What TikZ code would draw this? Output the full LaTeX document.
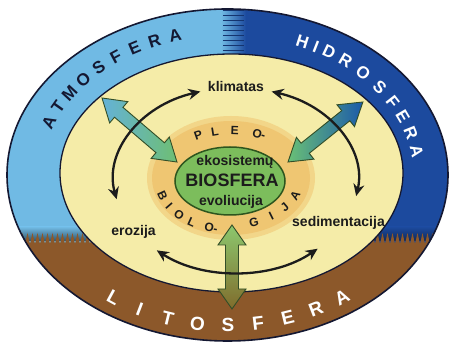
\documentclass[tikz,border=0pt]{standalone}
\usepackage{fontspec}
\setmainfont{Liberation Sans}
\usetikzlibrary{arrows.meta}
\definecolor{atmo}{RGB}{112,186,228}
\definecolor{hydro}{RGB}{28,74,158}
\definecolor{litho}{RGB}{140,88,42}
\definecolor{yel}{RGB}{245,236,168}
\definecolor{ringc}{RGB}{238,188,100}
\definecolor{bio}{RGB}{124,189,92}
\definecolor{bioline}{RGB}{45,85,30}
\definecolor{ink}{RGB}{28,28,28}
\definecolor{navy}{RGB}{20,24,50}
\definecolor{arlb}{RGB}{100,178,215}
\definecolor{arlg}{RGB}{110,190,115}
\definecolor{arrb}{RGB}{28,90,170}
\definecolor{arrg}{RGB}{105,192,118}
\definecolor{arbg}{RGB}{140,200,110}
\definecolor{arbb}{RGB}{128,108,44}
\definecolor{arline}{RGB}{50,78,40}
\newcommand\ellchar[8]{%
  \pgfmathsetmacro\ellcx{#1+(#3)*cos(#5)}%
  \pgfmathsetmacro\ellcy{#2+(#4)*sin(#5)}%
  \pgfmathsetmacro\ellrot{atan2(-(#6)*(#4)*cos(#5),(#6)*(#3)*sin(#5))}%
  \node[#7,rotate=\ellrot] at (\ellcx,\ellcy) {#8};%
}
\begin{document}
\begin{tikzpicture}[x=1pt,y=1pt,
  bandtxt/.style={font=\fontsize{17}{17}\selectfont\bfseries, inner sep=0pt, text height=12.2pt, text depth=0pt},
  bigband/.style={font=\fontsize{19}{19}\selectfont\bfseries, inner sep=0pt, text height=13.6pt, text depth=0pt},
  ringtxt/.style={font=\fontsize{12}{12}\selectfont\bfseries, inner sep=0pt, text height=8.6pt, text depth=0pt, text=ink},
  lbl/.style={font=\fontsize{14}{14}\selectfont\bfseries, inner sep=0pt, anchor=base, text=ink},
  fat/.style={draw=arline, line width=0.9pt},
  cyc/.style={line width=2.3pt, draw=ink, {Stealth[length=12pt,width=11pt]}-{Stealth[length=12pt,width=11pt]}}]
\useasboundingbox (0,0) rectangle (453,347);
\fill[white] (0,0) rectangle (453,347);
% outer band
\begin{scope}
\clip (227.5,172) ellipse [x radius=220.5pt, y radius=166pt];
\fill[atmo] (0,0) rectangle (233,347);
\fill[hydro] (233,0) rectangle (453,347);
\shade[left color=atmo, right color=hydro] (221,250) rectangle (246,347);
\foreach \yy in {296,301,...,336} \draw[hydro!70!black, line width=1pt] (223,\yy) -- (244,\yy);
\shade[top color=atmo, bottom color=atmo!45!black] (0,106) rectangle (233,120);
\shade[top color=hydro, bottom color=hydro!55!black] (233,106) rectangle (453,120);
\fill[litho] (0,0) -- (0,103) \foreach \i in {0,...,91} {-- (\i*5,103) -- (\i*5+2.5,114)} -- (460,103) -- (460,0) -- cycle;
\end{scope}
\draw[line width=1.6pt, navy] (227.5,172) ellipse [x radius=220.5pt, y radius=166pt];
% inner area
\fill[yel] (231.5,174) ellipse [x radius=171.5pt, y radius=119pt];
\draw[line width=1.3pt, navy] (231.5,174) ellipse [x radius=171.5pt, y radius=119pt];
% orange ring
\fill[ringc!45!yel] (231,169) ellipse [x radius=84pt, y radius=62pt];
\fill[ringc!80!yel] (231,169) ellipse [x radius=79pt, y radius=57pt];
% biosphere
\filldraw[fill=bio, draw=bioline, line width=1.5pt] (230,166) ellipse [x radius=55pt, y radius=34pt];
% fat arrows
\begin{scope}[shift={(102,249)}, rotate=-40.5]
\shade[fat, left color=arlb, right color=arlg] (0,0) -- (22,14) -- (22,6.5) -- (76.6,6.5) -- (76.6,14) -- (98.6,0) -- (76.6,-14) -- (76.6,-6.5) -- (22,-6.5) -- (22,-14) -- cycle;
\end{scope}
\begin{scope}[shift={(288,185)}, rotate=38.7]
\shade[fat, left color=arrg, right color=arrb] (0,0) -- (22,14) -- (22,6.5) -- (74,6.5) -- (74,14) -- (96,0) -- (74,-14) -- (74,-6.5) -- (22,-6.5) -- (22,-14) -- cycle;
\end{scope}
\shade[fat, top color=arbg, bottom color=arbb] (232,122) -- (246,102) -- (238.5,102) -- (238.5,58) -- (246,58) -- (232,38) -- (218,58) -- (225.5,58) -- (225.5,102) -- (218,102) -- cycle;
% cycle arcs
\coordinate (cc) at (236,167);
\draw[cyc] ([shift={(192:122pt and 92.5pt)}]cc) arc[start angle=192, end angle=107, x radius=122pt, y radius=92.5pt];
\draw[cyc] ([shift={(73:122pt and 92.5pt)}]cc) arc[start angle=73, end angle=-10, x radius=122pt, y radius=92.5pt];
\draw[cyc] ([shift={(229.5:122pt and 92.5pt)}]cc) arc[start angle=229.5, end angle=312, x radius=122pt, y radius=92.5pt];
% labels
\node[lbl] (klim) at (236,255) {klimatas};
\node[lbl] (eroz) at (133.5,111) {erozija};
\node[lbl] (sedi) at (338.5,120) {sedimentacija};
\node[lbl] (eko) at (235,181) {ekosistemų};
\node[lbl, font=\fontsize{18}{18}\selectfont\bfseries] (bios) at (232,160) {BIOSFERA};
\node[lbl] (evo) at (231,141) {evoliucija};
% band words
\foreach \t/\c in {158.6/A,152/T,145.4/M,138.8/O,132.2/S,125.6/F,119/E,112.4/R,105.8/A}
  {\ellchar{227.5}{172}{192}{145}{\t}{1}{bandtxt,text=navy}{\c}}
\foreach \t/\c in {67/H,62.5/I,58/D,52/R,45/O,37.5/S,30.5/F,24/E,17/R,9.5/A}
  {\ellchar{227.5}{172}{192}{145}{\t}{1}{bandtxt,text=white}{\c}}
\foreach \t/\c in {234.5/L,243.4/I,252.3/T,261.2/O,270.1/S,279/F,287.9/E,296.8/R,305.7/A}
  {\ellchar{227.5}{172}{196}{150}{\t}{-1}{bigband,text=white}{\c}}
% ring words
\foreach \t/\c in {117/P,103/L,87/E,67/O-}
  {\ellchar{231}{167}{72}{50}{\t}{1}{ringtxt}{\c}}
\foreach \t/\c in {198/B,211/I,224/O,237/L,254/O-}
  {\ellchar{231}{167}{72}{50}{\t}{-1}{ringtxt}{\c}}
\foreach \t/\c in {289/G,305/I,320/J,336/A}
  {\ellchar{231}{172}{70}{50}{\t}{-1}{ringtxt}{\c}}
\end{tikzpicture}
\end{document}
